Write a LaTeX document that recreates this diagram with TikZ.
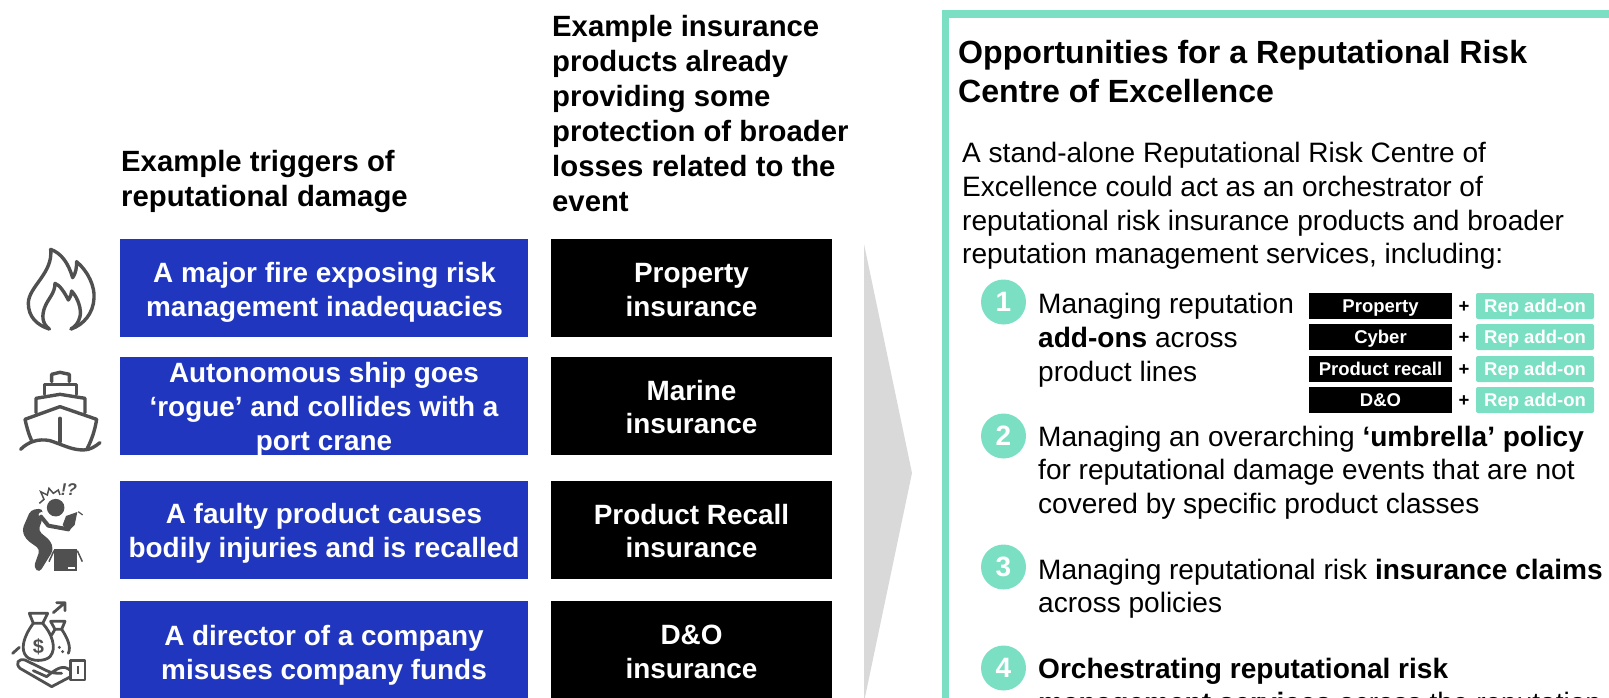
\documentclass[tikz,border=0pt]{standalone}
\usepackage{fontspec}
\setmainfont{Liberation Sans}
\definecolor{blu}{HTML}{2036BE}
\definecolor{tl}{HTML}{7BE0C3}
\definecolor{gry}{HTML}{D9D9D9}
\definecolor{ico}{HTML}{505050}
\newcommand{\fs}[2]{\fontsize{#1pt}{#2pt}\selectfont}
\tikzset{
 bluebox/.style={text=white,font=\fs{27.9}{33.8}\bfseries,align=center,anchor=center,inner sep=0pt,minimum width=408pt},
 blackbox/.style={text=white,font=\fs{27.9}{33.8}\bfseries,align=center,anchor=center,inner sep=0pt,minimum width=281pt},
 head/.style={font=\fs{29.3}{35}\bfseries,align=left,anchor=north west,inner sep=0pt},
 body/.style={font=\fs{28.05}{33.8},align=left,anchor=north west,inner sep=0pt},
 num/.style={circle,fill=tl,text=white,font=\fs{28}{28}\bfseries,minimum size=45pt,inner sep=0pt},
 minib/.style={fill=black,text=white,font=\fs{18.5}{18.5}\bfseries,minimum width=143pt,minimum height=26pt,inner sep=0pt,text height=13.5pt,text depth=0.5pt},
 minit/.style={fill=tl,text=white,font=\fs{18.5}{18.5}\bfseries,minimum width=118pt,minimum height=26pt,inner sep=0pt,rounded corners=2pt,text height=13.5pt,text depth=0.5pt},
 plusn/.style={font=\fs{18.5}{18.5}\bfseries,inner sep=0pt},
 icon/.style={draw=ico,line width=3.4pt,line cap=round,line join=round,fill=none},
 iconthin/.style={draw=ico,line width=2.8pt,line cap=round,line join=round,fill=none},
}
\begin{document}
\begin{tikzpicture}[x=1pt,y=-1pt]
\useasboundingbox (0,0) rectangle (1609,697);
\clip (0,0) rectangle (1609,697);
% headings
\node[head] (h1) at (121,150.5) {Example triggers of\\reputational damage};
\node[head] (h2) at (552,14.7) {Example insurance\\products already\\providing some\\protection of broader\\losses related to the\\event};
% blue boxes
\fill[blu] (120,239) rectangle (528,337);
\fill[blu] (120,357) rectangle (528,455);
\fill[blu] (120,481) rectangle (528,579);
\fill[blu] (120,601) rectangle (528,700);
\node[bluebox] (b1) at (324.5,292) {A major fire exposing risk\\management inadequacies};
\node[bluebox] (b2) at (324,409) {Autonomous ship goes\\‘rogue’ and collides with a\\port crane};
\node[bluebox] (b3) at (324,533) {A faulty product causes\\bodily injuries and is recalled};
\node[bluebox] (b4) at (324,655) {A director of a company\\misuses company funds};
% black boxes
\fill[black] (551,239) rectangle (832,337);
\fill[black] (551,357) rectangle (832,455);
\fill[black] (551,481) rectangle (832,579);
\fill[black] (551,601) rectangle (832,700);
\node[blackbox] (k1) at (691.5,290) {Property\\insurance};
\node[blackbox] (k2) at (691.5,407) {Marine\\insurance};
\node[blackbox] (k3) at (691.5,531) {Product Recall\\insurance};
\node[blackbox] (k4) at (691.5,651.5) {D\&O\\insurance};
% grey arrow
\fill[gry] (864,244) -- (912,473) -- (864,702) -- cycle;
% panel
\draw[tl,line width=7.5pt] (945.7,13.75) -- (1620,13.75);
\draw[tl,line width=7.5pt] (945.7,10) -- (945.7,710);
\node[head,font=\fs{32.1}{39}\bfseries] (t) at (958,40) {Opportunities for a Reputational Risk\\Centre of Excellence};
\node[body] (p) at (962,142) {A stand-alone Reputational Risk Centre of\\Excellence could act as an orchestrator of\\reputational risk insurance products and broader\\reputation management services, including:};
\node[num] (n1) at (1003.5,302) {1};
\node[num] (n2) at (1003.5,436) {2};
\node[num] (n3) at (1003.5,567) {3};
\node[num] (n4) at (1003.5,668) {4};
\node[body] (i1) at (1038,293) {Managing reputation\\\textbf{add-ons} across\\product lines};
\node[body] (i2) at (1038,425.5) {Managing an overarching \textbf{‘umbrella’ policy}\\for reputational damage events that are not\\covered by specific product classes};
\node[body] (i3) at (1038,558.5) {Managing reputational risk \textbf{insurance claims}\\across policies};
\node[body] (i4) at (1038,658) {\textbf{Orchestrating reputational risk}\\\textbf{management services} across the reputation};
% mini table
\foreach \nm/\lab/\yy in {a/Property/306,b/Cyber/337,c/Product recall/369,d/D\&O/400}{
 \node[minib] (m\nm) at (1380.5,\yy) {\lab};
 \node[minit] (r\nm) at (1535,\yy) {Rep add-on};
 \node[plusn] (s\nm) at (1464,\yy+1) {+};
}
% flame and ship
\begin{scope}[shift={(0,230)},x=.3333pt,y=-.3333pt]
\draw[icon] (148,297) .. controls (110,285) and (85,260) .. (85,220) .. controls (85,170) and (160,130) .. (152,58) .. controls (185,70) and (205,100) .. (218,143) .. controls (228,130) and (230,110) .. (230,95) .. controls (265,125) and (285,170) .. (282,205) .. controls (280,250) and (250,285) .. (213,297);
\draw[icon] (148,297) .. controls (125,280) and (125,255) .. (135,230) .. controls (145,205) and (165,190) .. (165,160) .. controls (180,165) and (195,190) .. (205,210) .. controls (212,200) and (215,190) .. (215,183) .. controls (235,205) and (245,240) .. (240,260) .. controls (235,280) and (225,290) .. (213,297);
\draw[icon] (155,455) -- (155,433) -- (180,427) -- (208,433) -- (208,455);
\draw[icon] (133,493) -- (133,463) -- (230,463) -- (230,493);
\draw[icon] (108,548) -- (108,505) -- (180,493) -- (255,505) -- (255,548);
\draw[icon] (95,632) .. controls (85,610) and (80,590) .. (75,568) -- (180,530) -- (290,568) .. controls (285,600) and (275,630) .. (262,655);
\draw[icon] (180,565) -- (180,635);
\draw[icon] (62,658) .. controls (85,635) and (115,625) .. (150,632) .. controls (190,645) and (215,660) .. (250,660) .. controls (270,660) and (285,650) .. (300,638);
\end{scope}
% person and money
\begin{scope}[shift={(0,460)},x=.3333pt,y=-.3333pt]
\fill[ico] (167,143) circle (8.8pt);
\fill[ico,rounded corners=4pt] (128,145) -- (92,150) -- (66,210) -- (78,238) -- (120,268) -- (101,322) -- (118,338) -- (160,270) -- (152,243) -- (115,212) -- (128,175) -- cycle;
\draw[white,line width=6pt,line cap=round,line join=round] (125,165) -- (145,190) -- (205,205);
\draw[ico,line width=4pt,line cap=round,line join=round] (123,170) -- (145,197) -- (205,208);
\fill[ico] (198,168) -- (232,156) -- (224,195) -- (205,214) -- (188,195) -- cycle;
\fill[ico] (162,268) rectangle (232,334);
\fill[white] (204,322) rectangle (224,328);
\draw[ico,line width=1.5pt] (162,272) -- (147,305) (232,272) -- (247,305);
\draw[ico,line width=1.5pt] (118,130) -- (132,118) -- (122,95) -- (142,105) -- (147,85) -- (160,100) -- (175,90) -- (180,105);
\draw[ico,line width=1.2pt] (235,155) -- (248,165);
\node[text=ico,font=\fs{17}{17}\bfseries\itshape,inner sep=0pt] (bang) at (207,88) {!?};
\draw[iconthin] (88,460) -- (143,460) -- (128,490) -- (100,490) -- cycle;
\draw[iconthin] (100,490) .. controls (70,530) and (60,570) .. (80,590) .. controls (95,605) and (135,605) .. (150,590) .. controls (172,565) and (155,520) .. (128,490);
\draw[iconthin] (152,484) -- (195,484) -- (185,508) -- (165,508) -- cycle;
\draw[iconthin] (185,508) .. controls (200,530) and (215,560) .. (205,580);
\draw[iconthin] (165,508) -- (155,525);
\draw[iconthin] (160,458) -- (195,428) (170,428) -- (195,428) -- (195,452);
\draw[iconthin] (38,580) -- (58,562);
\node[text=ico,font=\fs{20}{20}\bfseries,inner sep=0pt] (dol) at (115,560) {\$};
\fill[ico] (178,562) circle (1.6pt) (188,575) circle (1.6pt);
\draw[iconthin] (212,632) .. controls (190,612) and (170,625) .. (140,650) -- (100,632) (212,650) -- (155,680) -- (60,625) .. controls (45,610) and (55,595) .. (75,600) -- (140,632) .. controls (155,640) and (170,640) .. (185,640);
\draw[iconthin] (212,602) rectangle (255,660);
\fill[ico] (230,618) rectangle (238,642);
\end{scope}
\end{tikzpicture}
\end{document}
